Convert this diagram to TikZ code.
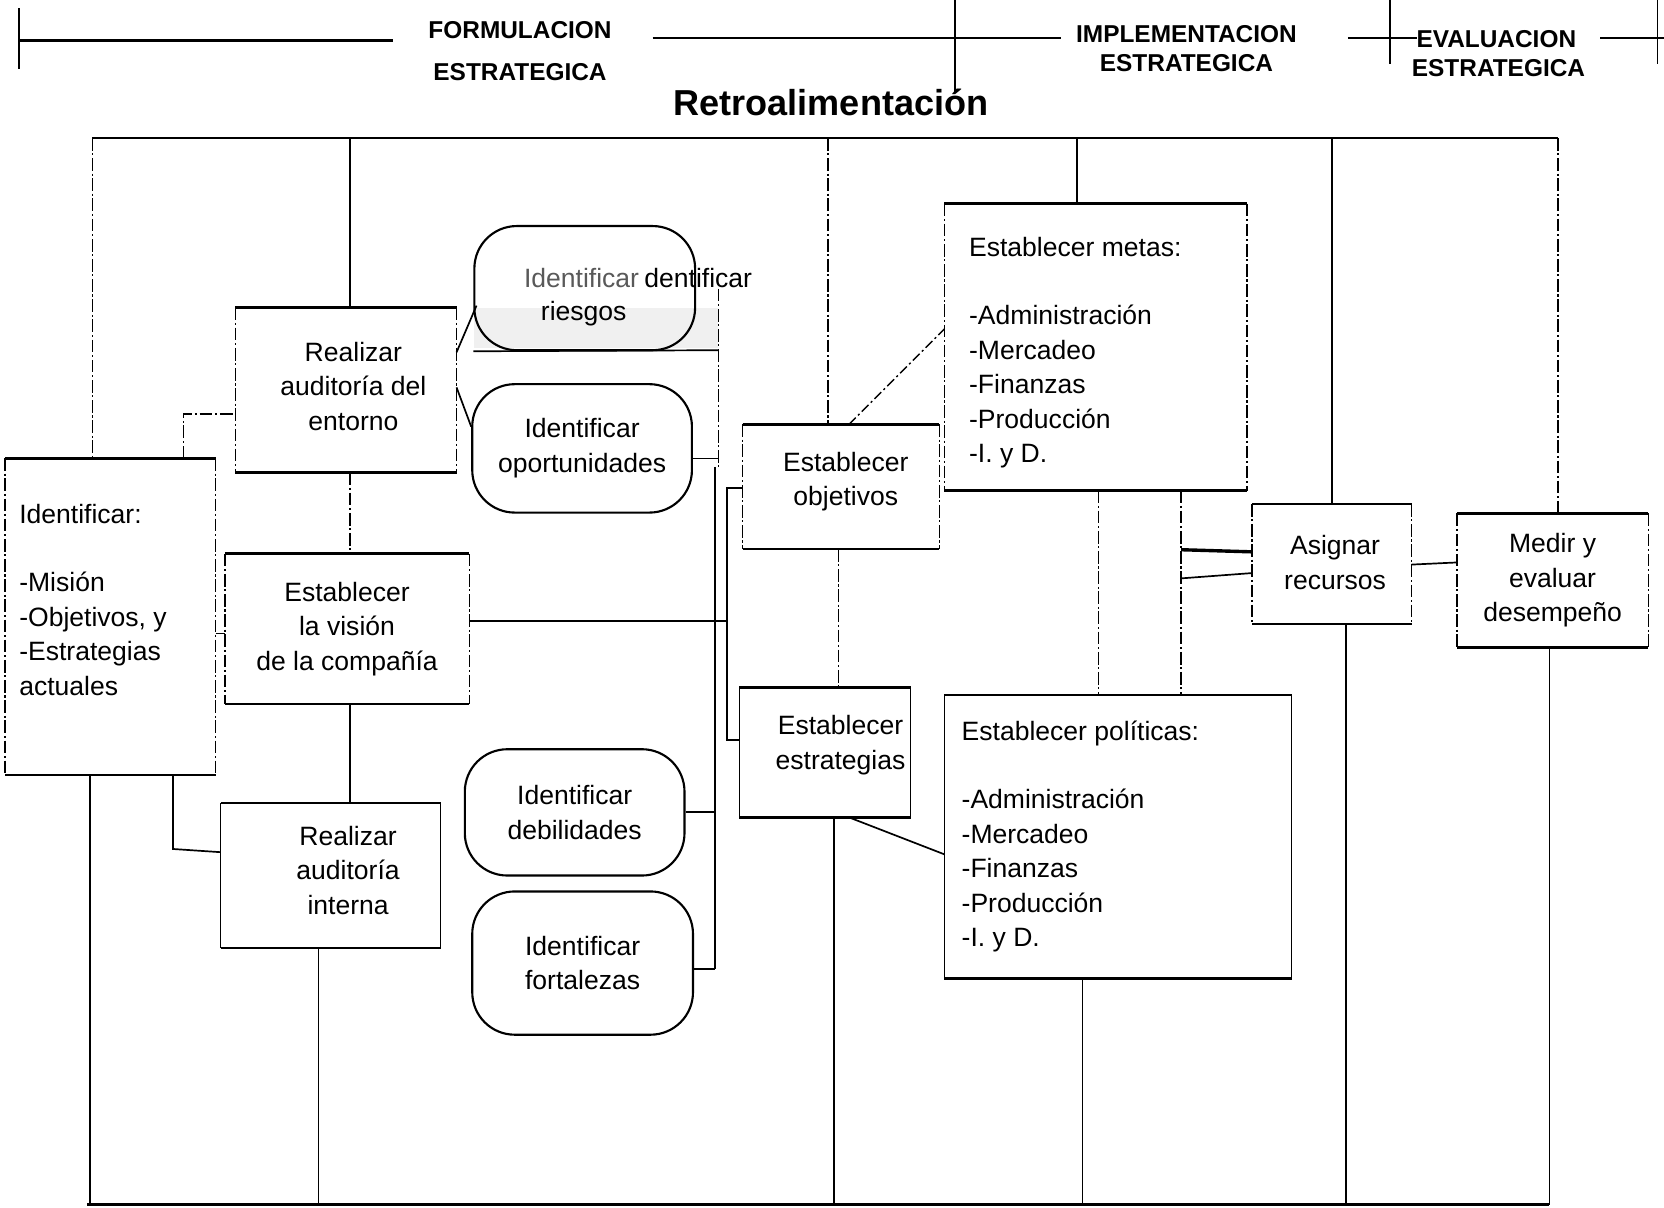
\documentclass[tikz,border=0pt]{standalone}
\usepackage{fontspec}
\setmainfont{Liberation Sans}
\begin{document}
\begin{tikzpicture}[x=1pt,y=-1pt,
  txt/.style={font=\fontsize{25}{32.5}\selectfont, align=center},
  box/.style={draw=none, inner sep=0pt, txt},
  oval/.style={draw, line width=2pt, rounded corners=40pt, inner sep=0pt, txt},
  edge/.style={line width=2.4pt},
  side/.style={line width=1.4pt},
  frag/.style={line width=1.4pt, dash pattern=on 12pt off 2.5pt on 2pt off 2.5pt},
  wire/.style={line width=1.6pt},
  head/.style={font=\fontsize{23}{26}\selectfont\bfseries},
]
\useasboundingbox (0,0) rectangle (1568,1138);

% box from corner (#2,#3) to corner (#4,#5), named #1, text #6
\newcommand{\mkbox}[6]{%
  \node[box, minimum width={#4-#2}, minimum height={#5-#3}] (#1)
    at ({(#2+#4)/2},{(#3+#5)/2}) {#6};}
\newcommand{\mkoval}[6]{%
  \node[oval, minimum width={#4-#2}, minimum height={#5-#3}] (#1)
    at ({(#2+#4)/2},{(#3+#5)/2}) {#6};}
% heavy top/bottom rules, lighter sides
\newcommand{\frameit}[2]{%
  \draw[edge] (#1.north west) -- (#1.north east);
  \draw[edge] (#1.south west) -- (#1.south east);
  \draw[#2] (#1.north west) -- (#1.south west);
  \draw[#2] (#1.north east) -- (#1.south east);}

% ---------- phase headings ----------
\draw[side] (18,8) -- (18,65);
\draw[edge] (18,38) -- (370,38);
\node[head] (hF1) at (490,28) {FORMULACION};
\node[head] (hF2) at (490,68) {ESTRATEGICA};
\draw[edge] (615,36) -- (1000,36);
\draw[side] (900,0) -- (900,88);
\node[head] (hI1) at (1118,32) {IMPLEMENTACION};
\node[head] (hI2) at (1118,59) {ESTRATEGICA};
\draw[edge] (1270,36) -- (1335,36);
\draw[side] (1310,0) -- (1310,60);
\node[head] (hE1) at (1410,37) {EVALUACION};
\node[head] (hE2) at (1412,64) {ESTRATEGICA};
\draw[edge] (1508,36) -- (1568,36);
\draw[side] (1562,0) -- (1562,60);
\node[font=\fontsize{34}{40}\selectfont\bfseries] (retro) at (783,97) {Retroalimentación};

% ---------- boxes ----------
\mkbox{iden}{5}{432}{203}{730}{}
\node[txt, align=left, anchor=north west, inner sep=0pt] (idenT) at (18,475)
  {Identificar:\\[32pt]-Misión\\-Objetivos, y\\-Estrategias\\actuales};
\mkbox{ent}{222}{290}{430}{445}{}
\node[txt] (entT) at (333,364) {Realizar\\auditoría del\\entorno};
\mkbox{vis}{212}{522}{442}{663}{Establecer\\la visión\\de la compañía}
\mkbox{int}{208}{757}{415}{893}{}
\node[txt] (intT) at (328,820) {Realizar\\auditoría\\interna};
\mkbox{obj}{700}{400}{885}{517}{}
\node[txt] (objT) at (797,454) {Establecer\\objetivos};
\mkbox{est}{697}{648}{858}{770}{}
\node[txt] (estT) at (792,702) {Establecer\\estrategias};
\mkbox{met}{890}{192}{1175}{462}{}
\node[txt, align=left, anchor=north west, inner sep=0pt] (metT) at (913,223)
  {Establecer metas:\\[32pt]-Administración\\-Mercadeo\\-Finanzas\\-Producción\\-I. y D.};
\mkbox{pol}{890}{655}{1217}{922}{}
\node[txt, align=left, anchor=north west, inner sep=0pt] (polT) at (906,679)
  {Establecer políticas:\\[32pt]-Administración\\-Mercadeo\\-Finanzas\\-Producción\\-I. y D.};
\mkbox{asi}{1180}{475}{1330}{588}{}
\node[txt] (asiT) at (1258,530) {Asignar\\recursos};
\mkbox{med}{1373}{484}{1553}{610}{Medir y\\evaluar\\desempeño}

\frameit{iden}{frag}
\frameit{ent}{frag}
\frameit{vis}{frag}
\frameit{int}{side}
\frameit{obj}{frag}
\frameit{est}{side}
\frameit{met}{frag}
\frameit{pol}{side}
\frameit{asi}{frag}
\frameit{med}{frag}

% ---------- rounded boxes ----------
\fill[gray!12] (447,290) rectangle (677,328);
\mkoval{rie}{447}{213}{655}{330}{}
\node[txt, text=black!65] (rieA) at (548,262) {Identificar};
\node[txt, anchor=west, inner sep=0pt] (rieB) at (607,262) {dentificar};
\node[txt] (rieC) at (550,296) {riesgos};
\mkoval{opo}{445}{362}{652}{483}{Identificar\\oportunidades}
\mkoval{deb}{438}{706}{645}{825}{Identificar\\debilidades}
\mkoval{for}{445}{840}{653}{975}{Identificar\\fortalezas}

% ---------- connectors ----------
\draw[frag] (173,0 |- iden.north) -- (173,390) -- (ent.west |- 0,390);
\draw[wire] (iden.east |- 0,597) -- (vis.west |- 0,597);
\draw[wire] (163,0 |- iden.south) -- (163,800) -- (int.west |- 0,803);
\draw[wire] (ent.east |- 0,332) -- (449,288);
\draw[wire] (ent.east |- 0,365) -- (opo.west |- 0,402);
\draw[frag] (330,0 |- ent.south) -- (330,0 |- vis.north);
\draw[wire] (330,0 |- vis.south) -- (330,0 |- int.north);
\draw[wire] (rie.south west) -- (677,330);
\coordinate (colA) at (677,272);
\coordinate (colB) at (677,440);
\coordinate (colC) at (674,440);
\coordinate (colD) at (674,913);
\draw[frag] (colA) -- (colB);
\draw[wire] (colC) -- (colD);
\draw[wire] (opo.east |- 0,432) -- (677,432);
\draw[wire] (deb.east |- 0,765) -- (674,765);
\draw[wire] (for.east |- 0,913) -- (colD);
\draw[wire] (vis.east |- 0,585) -- (685,585);
\draw[wire] (obj.west |- 0,460) -- (685,460) -- (685,697) -- (est.west |- 0,697);
\draw[line width=1.3pt, dash pattern=on 9pt off 3pt on 2pt off 3pt] (800,0 |- obj.north) -- (met.west |- 0,310);
\draw[wire] (800,0 |- est.south) -- (pol.west |- 0,805);
\draw[frag] (790,0 |- obj.south) -- (790,0 |- est.north);
\draw[frag] (1035,0 |- met.south) -- (1035,0 |- pol.north);
\draw[frag] (1113,0 |- met.south) -- (1113,0 |- pol.north);
\draw[line width=3.2pt] (1113,518) -- (asi.west |- 0,520);
\draw[wire] (1113,545) -- (asi.west |- 0,540);
\draw[wire] (asi.east |- 0,532) -- (med.west |- 0,530);

% ---------- feedback loop ----------
\draw[edge] (87,130) -- (1468,130);
\draw[frag] (87,130) -- (87,0 |- iden.north);
\draw[wire] (330,130) -- (330,0 |- ent.north);
\draw[frag] (780,130) -- (780,0 |- obj.north);
\draw[wire] (1015,130) -- (1015,0 |- met.north);
\draw[wire] (1255,130) -- (1255,0 |- asi.north);
\draw[frag] (1468,130) -- (1468,0 |- med.north);

\draw[edge] (82,1135) -- (1460,1135);
\draw[wire] (85,0 |- iden.south) -- (85,1135);
\draw[wire] (300,0 |- int.south) -- (300,1135);
\draw[wire] (786,0 |- est.south) -- (786,1135);
\draw[wire] (1020,0 |- pol.south) -- (1020,1135);
\draw[wire] (1268,0 |- asi.south) -- (1268,1135);
\draw[wire] (1460,0 |- med.south) -- (1460,1135);
\end{tikzpicture}
\end{document}
